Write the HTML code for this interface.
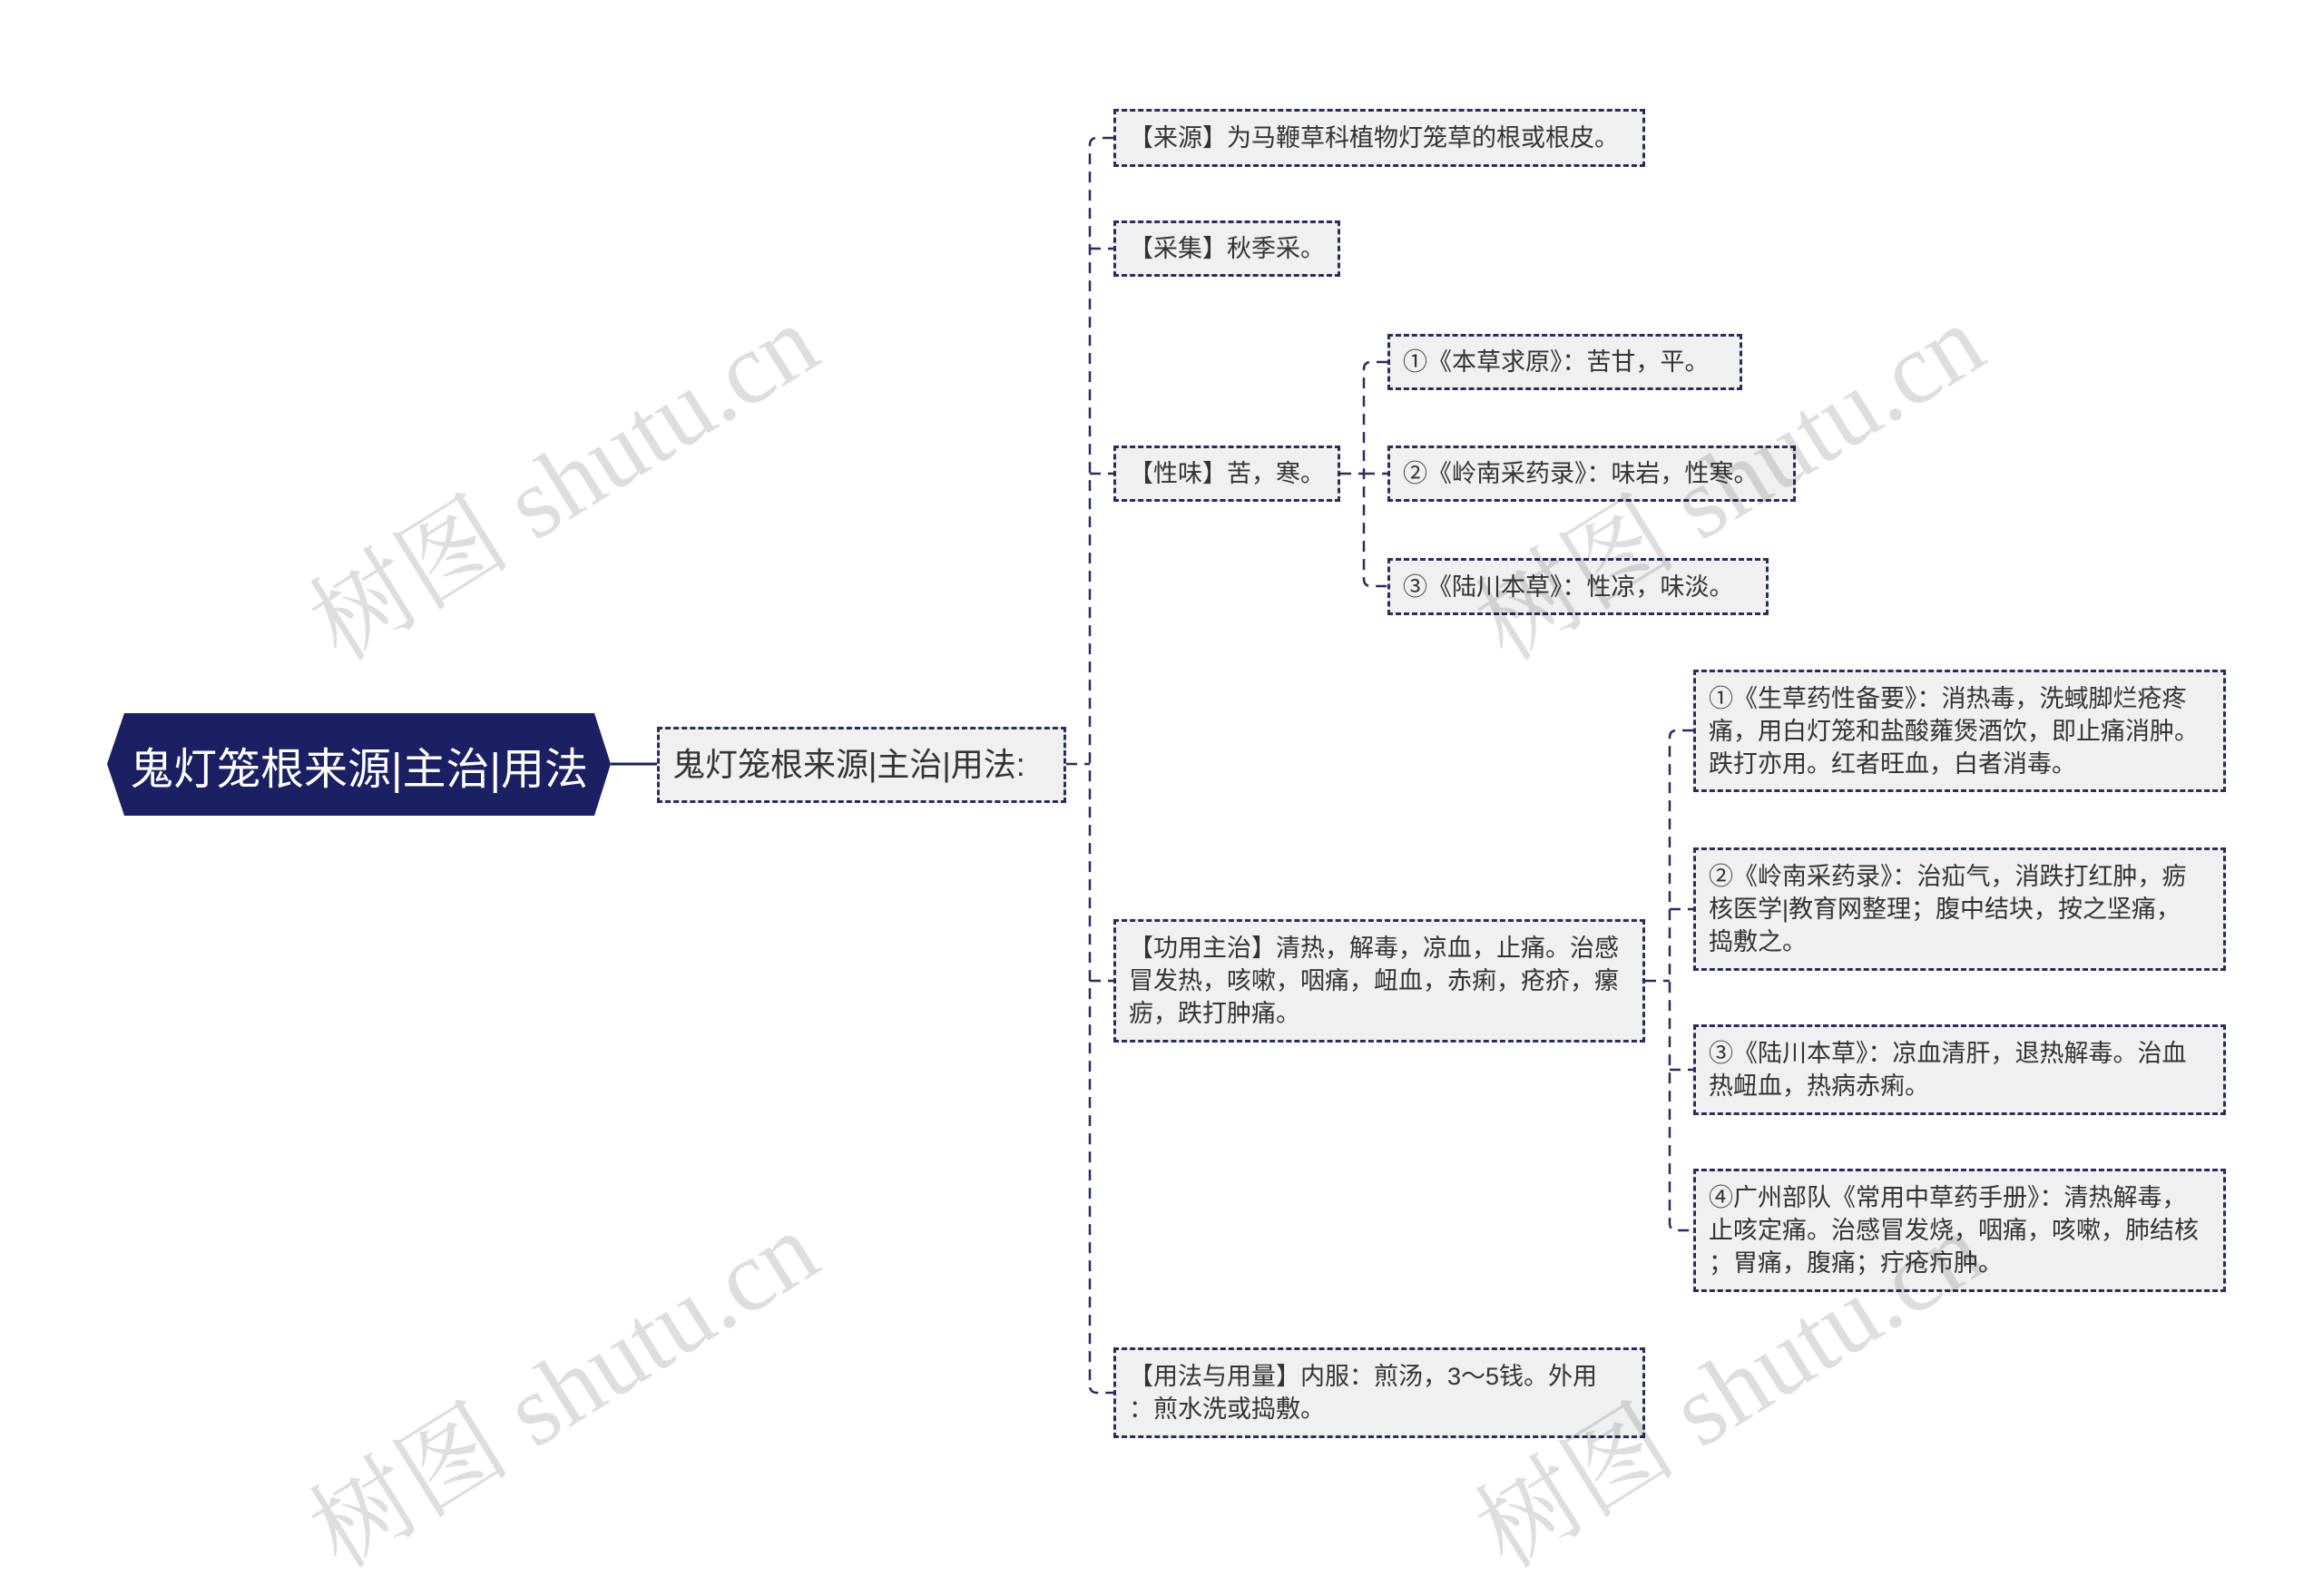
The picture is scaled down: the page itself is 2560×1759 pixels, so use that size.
<!DOCTYPE html>
<html><head><meta charset="utf-8"><style>
html,body{margin:0;padding:0;background:#fff;}
body{width:2560px;height:1697px;position:relative;overflow:hidden;font-family:"Liberation Sans","Noto Sans CJK SC",sans-serif;}
.b{position:absolute;box-sizing:border-box;background:#f0f0f0;border:3px dashed #2a2d5c;color:#333;font-size:27px;line-height:36px;padding:0 6px 0 14px;display:flex;align-items:center;white-space:nowrap;}
.wm{position:absolute;font-family:"Liberation Serif","Noto Serif CJK SC",serif;font-size:112px;color:rgba(0,0,0,0.13);transform:rotate(-32deg);transform-origin:left center;white-space:nowrap;}
svg{position:absolute;left:0;top:0;}
</style></head><body>
<svg width="2560" height="1697">
<polygon points="137,786 655,786 673,842 655,899 137,899 118,842" fill="#1b1f63"/>
<line x1="673" y1="842" x2="724" y2="842" stroke="#1b1f63" stroke-width="3"/>
<g fill="none" stroke="#2a2d5c" stroke-width="2.5" stroke-dasharray="12,8">
<line x1="1175" y1="842" x2="1201" y2="842"/>
<path d="M1227,152 H1209 Q1201,152 1201,160 V1527 Q1201,1535 1209,1535 H1227"/>
<line x1="1201" y1="274" x2="1227" y2="274"/>
<line x1="1201" y1="522" x2="1227" y2="522"/>
<line x1="1201" y1="1081" x2="1227" y2="1081"/>
<line x1="1477" y1="522" x2="1503" y2="522"/>
<path d="M1529,399 H1511 Q1503,399 1503,407 V638 Q1503,646 1511,646 H1529"/>
<line x1="1503" y1="522" x2="1529" y2="522"/>
<line x1="1813" y1="1081" x2="1840" y2="1081"/>
<path d="M1866,805 H1848 Q1840,805 1840,813 V1348 Q1840,1356 1848,1356 H1866"/>
<line x1="1840" y1="1002" x2="1866" y2="1002"/>
<line x1="1840" y1="1179" x2="1866" y2="1179"/>
</g>
</svg>
<div style="position:absolute;left:118px;top:786px;width:555px;height:113px;display:flex;align-items:center;justify-content:center;color:#fff;font-size:48px;">鬼灯笼根来源|主治|用法</div>
<div class="b" style="left:724px;top:801px;width:451px;height:84px;font-size:36px;">鬼灯笼根来源|主治|用法:</div>
<div class="b" style="left:1227px;top:120px;width:586px;height:64px;">【来源】为马鞭草科植物灯笼草的根或根皮。</div>
<div class="b" style="left:1227px;top:243px;width:250px;height:62px;">【采集】秋季采。</div>
<div class="b" style="left:1227px;top:491px;width:250px;height:62px;">【性味】苦，寒。</div>
<div class="b" style="left:1529px;top:368px;width:391px;height:62px;">①《本草求原》：苦甘，平。</div>
<div class="b" style="left:1529px;top:491px;width:450px;height:62px;">②《岭南采药录》：味岩，性寒。</div>
<div class="b" style="left:1529px;top:615px;width:420px;height:63px;">③《陆川本草》：性凉，味淡。</div>
<div class="b" style="left:1227px;top:1013px;width:586px;height:136px;"><div>【功用主治】清热，解毒，凉血，止痛。治感<br>冒发热，咳嗽，咽痛，衄血，赤痢，疮疥，瘰<br>疬，跌打肿痛。</div></div>
<div class="b" style="left:1866px;top:738px;width:587px;height:135px;"><div>①《生草药性备要》：消热毒，洗蜮脚烂疮疼<br>痛，用白灯笼和盐酸蕹煲酒饮，即止痛消肿。<br>跌打亦用。红者旺血，白者消毒。</div></div>
<div class="b" style="left:1866px;top:934px;width:587px;height:136px;"><div>②《岭南采药录》：治疝气，消跌打红肿，疬<br>核医学|教育网整理；腹中结块，按之坚痛，<br>捣敷之。</div></div>
<div class="b" style="left:1866px;top:1129px;width:587px;height:100px;"><div>③《陆川本草》：凉血清肝，退热解毒。治血<br>热衄血，热病赤痢。</div></div>
<div class="b" style="left:1866px;top:1288px;width:587px;height:136px;"><div>④广州部队《常用中草药手册》：清热解毒，<br>止咳定痛。治感冒发烧，咽痛，咳嗽，肺结核<br>；胃痛，腹痛；疔疮疖肿。</div></div>
<div class="b" style="left:1227px;top:1485px;width:586px;height:100px;"><div>【用法与用量】内服：煎汤，3～5钱。外用<br>：煎水洗或捣敷。</div></div>
<div class="wm" style="left:350px;top:610px;">树图 shutu.cn</div>
<div class="wm" style="left:350px;top:1610px;">树图 shutu.cn</div>
<div class="wm" style="left:1635px;top:610px;">树图 shutu.cn</div>
<div class="wm" style="left:1635px;top:1610px;">树图 shutu.cn</div>
</body></html>
